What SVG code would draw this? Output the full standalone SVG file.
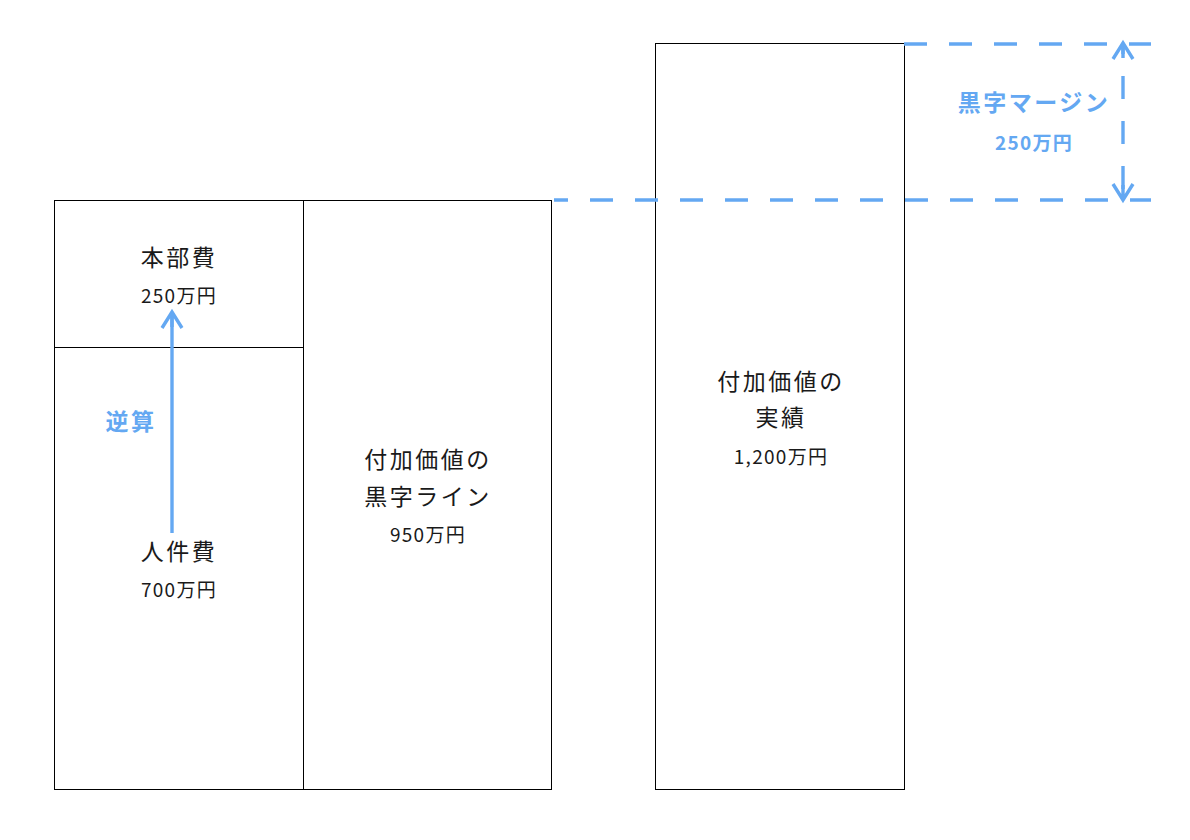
<svg xmlns="http://www.w3.org/2000/svg" width="1190" height="840" viewBox="0 0 1190 840">
<style>
.box{fill:#fff;stroke:#000;stroke-width:1}
.t{font-family:"Noto Sans CJK JP","Noto Sans",sans-serif;fill:#1a1a1a;text-anchor:middle}
.lg{font-size:23px;letter-spacing:2.5px}
.sm{font-size:19px;letter-spacing:1.3px}
.b{fill:#64a8f2;font-weight:bold}
.dash{stroke:#64a8f2;stroke-width:3.4;fill:none;stroke-dasharray:23 22}
.arr{stroke:#64a8f2;stroke-width:3.4;fill:none}
</style>
<defs>
<marker id="head" markerUnits="userSpaceOnUse" viewBox="-20 -14 24 28" refX="0" refY="0" markerWidth="24" markerHeight="28" orient="auto-start-reverse">
<path d="M-16,-10 L0,0 L-16,10 M0,0 L-15,0" fill="none" stroke="#64a8f2" stroke-width="3.4" stroke-dasharray="none"/>
</marker>
</defs>
<rect width="1190" height="840" fill="#fff"/>
<g id="left-column">
<rect class="box" x="54.5" y="200.5" width="249" height="589"/>
<line x1="54.5" y1="347.5" x2="303.5" y2="347.5" stroke="#000" stroke-width="1"/>
</g>
<g id="node-honbuhi">
<text class="t lg" x="179" y="266">本部費</text>
<text class="t sm" x="179" y="303">250万円</text>
</g>
<g id="node-jinkenhi">
<text class="t lg" x="179" y="560">人件費</text>
<text class="t sm" x="179" y="596.5">700万円</text>
</g>
<g id="node-kuroji-line">
<rect class="box" x="303.5" y="200.5" width="248" height="589"/>
<text class="t lg" x="428" y="468">付加価値の</text>
<text class="t lg" x="428" y="505">黒字ライン</text>
<text class="t sm" x="428" y="542">950万円</text>
</g>
<g id="node-jisseki">
<rect class="box" x="655.5" y="43.5" width="249" height="746"/>
<text class="t lg" x="781" y="390">付加価値の</text>
<text class="t lg" x="781" y="426">実績</text>
<text class="t sm" x="781" y="463.5">1,200万円</text>
</g>
<g id="connectors">
<line class="dash" x1="904" y1="44" x2="1151" y2="44"/>
<line class="dash" x1="554" y1="200" x2="1151" y2="200" stroke-dashoffset="9"/>
<line class="dash" x1="1123" y1="43" x2="1123" y2="200" stroke-dashoffset="12" marker-start="url(#head)" marker-end="url(#head)"/>
<line class="arr" x1="172" y1="533" x2="172" y2="312" marker-end="url(#head)"/>
</g>
<g id="label-gyakusan">
<text class="t lg b" x="131" y="430">逆算</text>
</g>
<g id="label-margin">
<text class="t lg b" x="1034" y="111">黒字マージン</text>
<text class="t sm b" x="1034" y="149.5">250万円</text>
</g>
</svg>
